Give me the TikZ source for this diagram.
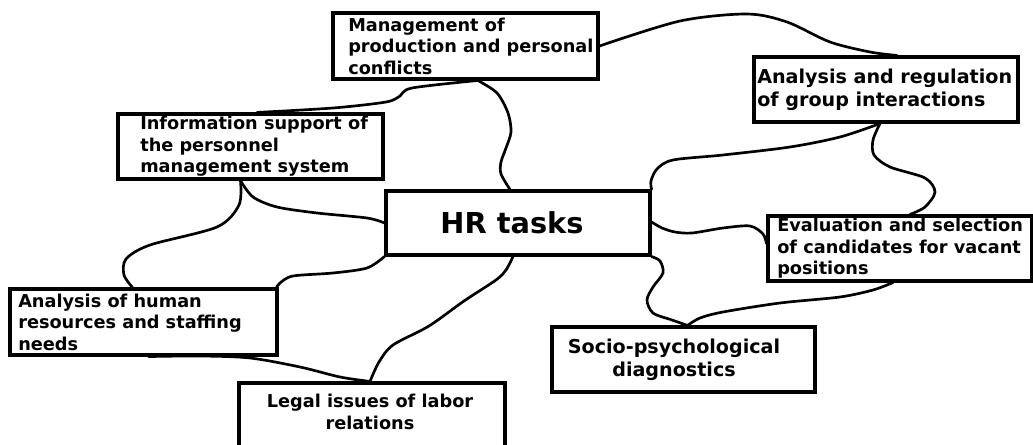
\documentclass[tikz,border=0pt]{standalone}
\usepackage{fontspec}
\setmainfont{DejaVu Sans}
\usetikzlibrary{calc}

\begin{document}
\begin{tikzpicture}[
      x=0.025cm, y=-0.025cm,
      tarea/.style={draw=black, line width=2.2pt, minimum width=6.6cm, minimum height=1.625cm, inner sep=0pt},
      etiqueta/.style={font=\fontsize{12.6}{15.3}\selectfont\bfseries, align=left, inner sep=0pt},
      etqGrande/.style={etiqueta, font=\fontsize{13.6}{16.4}\selectfont\bfseries},
      enlace/.style={line width=1.9pt, line join=round, line cap=round}
    ]
    \path[use as bounding box, fill=white] (0,0) rectangle (1033,445);

    % --- cajas ---
    \node[tarea, minimum width=6.625cm, minimum height=1.65cm] (conflictos) at (465.5,46) {};
    \node[etiqueta, anchor=west] at (348,46) {Management of\\production and personal\\conflicts};

    \node[tarea, minimum width=6.625cm] (informacion) at (250.5,146.5) {};
    \node[etiqueta, anchor=west] at (140,146.5) {Information support of\\the personnel\\management system};

    \node[tarea, minimum height=1.6cm] (tareas) at (518,223) {};
    \node[etiqueta, font=\fontsize{20.5}{24}\selectfont\bfseries] at (512,223) {HR tasks};

    \node[tarea] (grupos) at (886,89.5) {};
    \node[etqGrande, anchor=west] at (757,89.5) {Analysis and regulation\\of group interactions};

    \node[tarea] (seleccion) at (900,248.5) {};
    \node[etiqueta, anchor=west] at (777,248.5) {Evaluation and selection\\of candidates for vacant\\positions};

    \node[tarea, minimum width=6.675cm, minimum height=1.65cm] (recursos) at (143.5,322) {};
    \node[etiqueta, anchor=west] at (18,322) {Analysis of human\\resources and staffing\\needs};

    \node[tarea, minimum width=6.65cm, minimum height=1.75cm] (legal) at (372,418) {};
    \node[etiqueta, align=center] at (370,412) {Legal issues of labor\\relations};

    \node[tarea, minimum width=6.575cm] (diagnostico) at (683.5,359.5) {};
    \node[etqGrande, align=center] at (674,359.5) {Socio-psychological\\diagnostics};

    % --- enlaces ---
    \draw[enlace] plot[smooth] coordinates {(conflictos.east) (680,21) (747,14) (787,22) (830,42) (870,52) ($(grupos.north)+(11,0)$)};
    \draw[enlace] plot[smooth] coordinates {($(conflictos.south)+(11.5,0)$) (412,88) (400,96) (386,102) (333,108) ($(informacion.north)+(6.5,0)$)};
    \draw[enlace] plot[smooth] coordinates {($(conflictos.south)+(12.5,0)$) (497,93) (508,113) (511,132) (506,148) (501,162) (501,174) ($(tareas.north)+(-8,0)$)};

    \draw[enlace] plot[smooth] coordinates {($(informacion.south)+(-10,0)$) (253,197) (277,207) (317,213) (367,218) (tareas.west)};
    \draw[enlace] plot[smooth] coordinates {($(informacion.south)+(-10,0)$) (239,205) (217,227) (150,245) (126,259) (124,275) ($(recursos.north)+(-11,0)$)};
    \draw[enlace] plot[smooth] coordinates {(tareas.south west) (367,268) (333,273) (293,276) (280,283) ($(recursos.north east)+(-2,0)$)};

    \draw[enlace] plot[smooth] coordinates {($(tareas.south)+(-5,0)$) (506,270) (496,280) (464,301) (429,326) (393,345) (379,362) ($(legal.north)+(-2,0)$)};
    \draw[enlace] plot[smooth] coordinates {($(recursos.south)+(5,0)$) (200,356) (250,358) (300,367) (340,377) ($(legal.north)+(-2,0)$)};

    \draw[enlace] plot[smooth] coordinates {($(grupos.south)+(-6,0)$) (840,137) (790,147) (723,155) (673,160) (657,169) (651,181) (tareas.north east)};
    \draw[enlace] plot[smooth] coordinates {($(grupos.south)+(-6,0)$) (873,140) (874,155) (890,167) (925,178) (935,192) (925,207) ($(seleccion.north)+(10,0)$)};
    \draw[enlace] plot[smooth] coordinates {($(tareas.east)+(0,-1)$) (662,228) (675,232) (692,233) (723,228) (750,226) (763,234) ($(seleccion.west)+(0,-5)$)};

    \draw[enlace] plot[smooth] coordinates {(tareas.south east) (660,261) (663,273) (653,287) (647,300) (653,313) (672,320) ($(diagnostico.north)+(4,0)$)};
    \draw[enlace] plot[smooth] coordinates {($(seleccion.south)+(-7,0)$) (873,290) (840,297) (780,303) (723,312) (700,318) ($(diagnostico.north)+(4,0)$)};
  \end{tikzpicture}
\end{document}
